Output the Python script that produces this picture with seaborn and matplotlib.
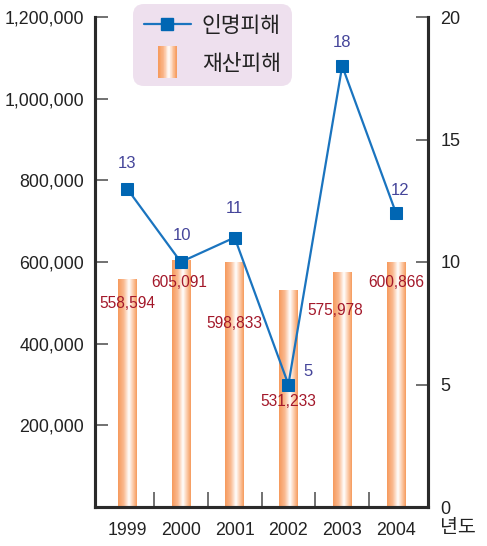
import numpy as np
import matplotlib
matplotlib.use("Agg")
import matplotlib.pyplot as plt
import seaborn as sns
from matplotlib.legend_handler import HandlerBase
from matplotlib.patches import Rectangle
from matplotlib.lines import Line2D
from matplotlib.colors import LinearSegmentedColormap

# --- data ---
years = ["1999", "2000", "2001", "2002", "2003", "2004"]
property_damage = [558594, 605091, 598833, 531233, 575978, 600866]   # 재산피해
casualties = [13, 10, 11, 5, 18, 12]                                  # 인명피해
left_ticks = [200000, 400000, 600000, 800000, 1000000, 1200000]
right_ticks = [0, 5, 10, 15, 20]

# label offsets in points (dx, dy) relative to the mark
casualty_offsets = [(0, 18), (1, 19), (0, 21), (14, 9), (0, 17), (3, 16)]
damage_offsets = [(0, -18), (-1, -16), (0, -44), (0, -80), (-5, -28), (0, -15)]

sns.set_theme(style="white")
plt.rcParams["font.family"] = ["Liberation Sans", "DejaVu Sans"]
KR = ["Noto Sans CJK KR", "DejaVu Sans"]

LINE_BLUE = "#1a74bf"
MARK_BLUE = "#0066b3"
LBL_BLUE = "#45459a"
LBL_RED = "#a3182a"
ORANGE = "#f69a5c"
AX_DARK = "#2a2a2a"
TICK_GRAY = "#666666"

bar_cmap = LinearSegmentedColormap.from_list(
    "bar", [(0.0, ORANGE), (0.3, "#fab98f"), (0.58, "#ffffff"), (0.8, "#fcc9a6"), (1.0, ORANGE)])

fig = plt.figure(figsize=(4.87, 5.46), dpi=100)
ax = fig.add_axes([95 / 487, 1 - 507 / 546, (428 - 95) / 487, (507 - 17) / 546])

pos = np.arange(len(years))
sns.barplot(x=years, y=property_damage, ax=ax, width=0.34, color=ORANGE,
            saturation=1, linewidth=0)

# replace the flat fill with a horizontal gradient clipped to each bar
grad = np.linspace(0, 1, 256).reshape(1, -1)
for patch in ax.patches:
    x0, y0 = patch.get_x(), patch.get_y()
    w, h = patch.get_width(), patch.get_height()
    im = ax.imshow(grad, cmap=bar_cmap, aspect="auto",
                   extent=(x0, x0 + w, y0, y0 + h), zorder=2, interpolation="bilinear")
    im.set_clip_path(patch)
    patch.set_facecolor("none")

ax.set_xlim(-0.595, 5.595)
ax.set_ylim(0, 1200000)
ax.set_yticks(left_ticks)
ax.set_yticklabels([f"{v:,}" for v in left_ticks], fontsize=12.8, color="#222222")
ax.set_xticks(pos)
ax.set_xticklabels(years, fontsize=12.8, color="#222222")
ax.set_xticks(pos[:-1] + 0.5, minor=True)
ax.tick_params(axis="x", which="major", length=0, pad=11)
ax.tick_params(axis="x", which="minor", direction="in", length=11, width=1.3,
               color=TICK_GRAY, bottom=True)
ax.tick_params(axis="y", direction="in", length=9, width=1.3, color=TICK_GRAY,
               left=True, pad=8)
ax.set_xlabel("")
ax.set_ylabel("")

for i, v in enumerate(property_damage):
    dx, dy = damage_offsets[i]
    ax.annotate(f"{v:,}", (pos[i], v), xytext=(dx, dy), textcoords="offset points",
                ha="center", va="center", fontsize=11.2, color=LBL_RED, zorder=5)

ax2 = ax.twinx()
sns.lineplot(x=pos, y=casualties, ax=ax2, color=LINE_BLUE, linewidth=1.6,
             marker="s", markersize=9, markerfacecolor=MARK_BLUE,
             markeredgecolor=MARK_BLUE, zorder=4)
ax2.set_ylim(0, 20)
ax2.set_xlim(-0.595, 5.595)
ax2.set_yticks(right_ticks)
ax2.set_yticklabels([str(v) for v in right_ticks], fontsize=13, color="#222222")
ax2.tick_params(axis="y", direction="in", length=9, width=1.3, color=TICK_GRAY,
                right=True, pad=9)
ax2.set_ylabel("")

for i, v in enumerate(casualties):
    dx, dy = casualty_offsets[i]
    ax2.annotate(str(v), (pos[i], v), xytext=(dx, dy), textcoords="offset points",
                 ha="center", va="center", fontsize=12, color=LBL_BLUE)

for a in (ax, ax2):
    a.spines["top"].set_visible(False)
    for s in ("left", "right", "bottom"):
        a.spines[s].set_color(AX_DARK)
        a.spines[s].set_linewidth(2.2)

fig.text(458 / 487, 1 - 527 / 546, "년도", family=KR, fontsize=14,
         ha="center", va="center", color="#222222")


class GradientBarHandler(HandlerBase):
    def create_artists(self, legend, orig_handle, xdescent, ydescent,
                       width, height, fontsize, trans):
        n = 30
        bw = 13.0
        bh = 23.0
        x0 = width / 2 - bw / 2 - xdescent
        yc = height / 2 - ydescent
        arts = []
        for k in range(n):
            r = Rectangle((x0 + bw * k / n, yc - bh / 2), bw / n + 0.05, bh,
                          facecolor=bar_cmap((k + 0.5) / n), edgecolor="none",
                          transform=trans)
            arts.append(r)
        return arts


line_handle = Line2D([], [], color=LINE_BLUE, linewidth=1.6, marker="s",
                     markersize=9, markerfacecolor=MARK_BLUE, markeredgecolor=MARK_BLUE)
bar_handle = Rectangle((0, 0), 1, 1)
leg = ax2.legend([line_handle, bar_handle], ["인명피해", "재산피해"],
                 handler_map={Rectangle: GradientBarHandler()},
                 loc="upper left", bbox_to_anchor=(133 / 487, 1 - 4 / 546),
                 bbox_transform=fig.transFigure, prop={"family": KR, "size": 15.5},
                 frameon=True, fancybox=True, framealpha=1, facecolor="#eee0ee",
                 edgecolor="none", handlelength=2.2, handletextpad=0.5,
                 labelspacing=0.75, borderpad=0.5, borderaxespad=0)
leg.get_frame().set_boxstyle("round,pad=0,rounding_size=0.5")
for t in leg.get_texts():
    t.set_color("#222222")

fig.savefig("out.png", dpi=100)
